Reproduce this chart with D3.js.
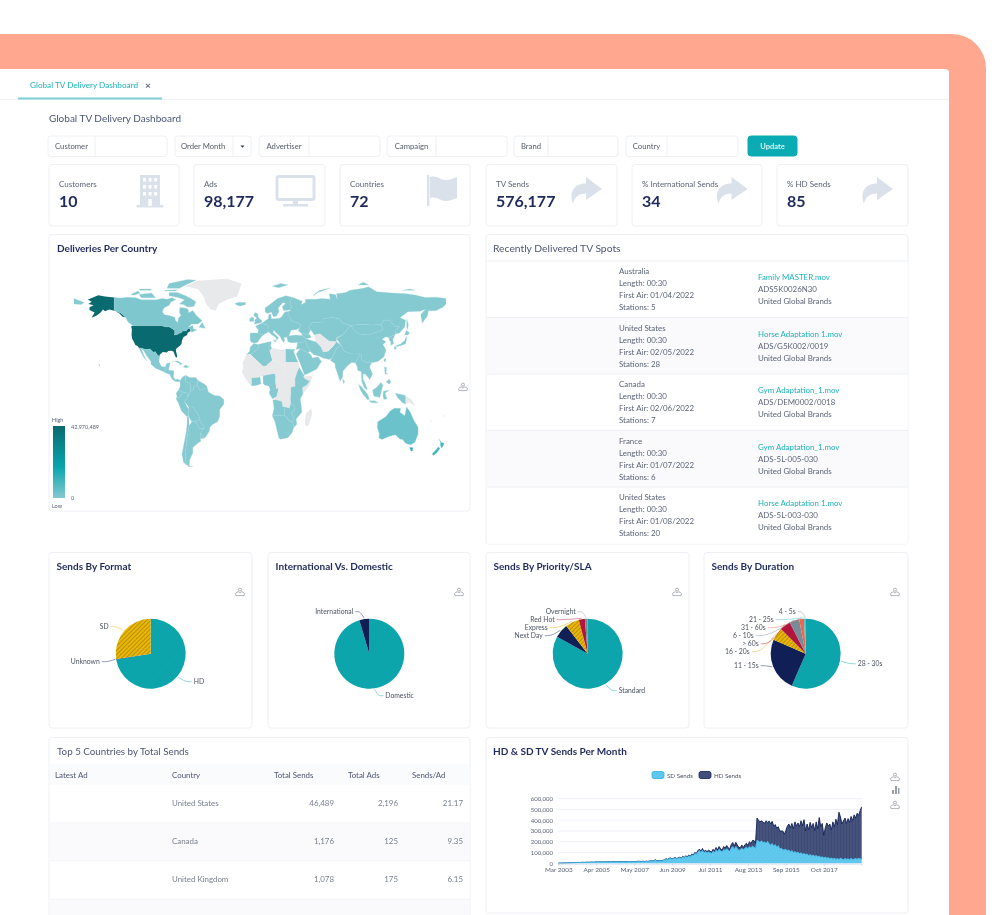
<!DOCTYPE html>
<html>
<head>
<meta charset="utf-8">
<title>Global TV Delivery Dashboard</title>
<script src="https://cdn.jsdelivr.net/npm/d3@7"></script>
<style>
html, body { margin: 0; padding: 0; background: #fff; overflow: hidden; }
svg { display: block; filter: blur(0.7px); font-family: Lato, "Open Sans", sans-serif; }
</style>
</head>
<body>
<div id="chart"></div>
<script>
//********************************* DATA *********************************
var filterLabels = ["Customer", "Order Month", "Advertiser", "Campaign", "Brand", "Country"];
var kpiLabels = ["Customers", "Ads", "Countries", "TV Sends", "% International Sends", "% HD Sends"];
var kpiValues = ["10", "98,177", "72", "576,177", "34", "85"];

var spotCountries = ["Australia", "United States", "Canada", "France", "United States"];
var spotLengths = ["00:30", "00:30", "00:30", "00:30", "00:30"];
var spotAirDates = ["01/04/2022", "02/05/2022", "02/06/2022", "01/07/2022", "01/08/2022"];
var spotStations = [5, 28, 7, 6, 20];
var spotFiles = ["Family MASTER.mov", "Horse Adaptation 1.mov", "Gym Adaptation_1.mov", "Gym Adaptation_1.mov", "Horse Adaptation 1.mov"];
var spotCodes = ["ADS5K0026N30", "ADS/G5K002/0019", "ADS/DEM0002/0018", "ADS-5L-005-030", "ADS-5L-003-030"];
var spotOwners = ["United Global Brands", "United Global Brands", "United Global Brands", "United Global Brands", "United Global Brands"];

var tableHeaders = ["Latest Ad", "Country", "Total Sends", "Total Ads", "Sends/Ad"];
var topCountries = ["United States", "Canada", "United Kingdom"];
var topSends = ["46,489", "1,176", "1,078"];
var topAds = ["2,196", "125", "175"];
var topRatio = ["21.17", "9.35", "6.15"];

var formatLabels = ["HD", "Unknown", "SD"];
var formatValues = [72.4, 0.2, 27.4];
var reachLabels = ["Domestic", "International"];
var reachValues = [95.4, 4.6];
var priorityLabels = ["Standard", "Next Day", "Express", "Red Hot", "Overnight"];
var priorityValues = [83, 6.5, 6.4, 2.8, 1.3];
var durationLabels = ["28 - 30s", "11 - 15s", "16 - 20s", "> 60s", "6 - 10s", "31 - 60s", "21 - 25s", "4 - 5s"];
var durationValues = [56.5, 25, 6, 5, 4.5, 2.2, 0.4, 0.4];

// monthly sends in thousands, Mar 2003 onward
var sdSends = [1,2,2,3,3,4,4,5,5,6, 6,7,7,8,7,8,9,8,9,10, 9,10,11,10,11,12,11,12,13,12,
	13,12,14,13,12,14,15,13,14,15, 14,13,15,14,13,15,14,16,15,14, 14,15,16,18,15,16,17,15,18,16,
	18,22,20,24,30,22,20,25,22,24, 30,40,34,42,46,38,44,50,42,46, 52,44,60,50,64,55,70,60,78,72,
	92,84,105,118,100,122,98,110,96,105, 100,92,112,100,125,108,130,115,105,128, 118,135,122,112,140,155,130,155,135,122,
	125,140,125,140,150,135,155,142,160,150, 140,215,205,195,210,190,200,185,205,180,
	170,185,160,175,150,165,135,140,125,125, 130,115,125,105,120,100,110,95,105,90,
	98,85,92,80,88,72,82,68,78,65, 72,60,68,55,62,50,58,46,54,42, 50,40,46,38,44,36,48,40,35,45,
	38,42,34,46,36,40,44,38,48,42,38];
var hdSends = [0,0,0,0,0,0,0,0,0,0, 0,0,0,0,0,0,0,0,0,0, 0,0,0,0,0,1,0,1,0,1,
	0,1,0,1,1,0,1,1,0,1, 1,1,0,1,1,1,0,1,1,1, 1,1,2,1,2,1,2,1,2,2,
	2,1,2,3,2,2,3,2,2,3, 3,2,3,3,4,3,3,4,3,4, 4,3,5,4,6,5,7,5,8,6,
	9,7,12,14,10,15,11,13,12,16, 14,12,18,15,22,16,26,20,17,28, 24,30,22,20,34,38,28,40,35,26,
	20,30,22,32,36,30,46,40,52,62, 45,205,195,190,185,190,172,210,173,212,
	195,205,185,185,175,175,165,160,175,145, 175,230,240,225,250,220,275,250,270,250,
	297,265,313,220,277,238,298,262,292,240, 313,260,357,285,308,210,272,329,291,323,
	260,345,294,372,316,439,382,325,360,375, 332,373,346,389,359,410,376,427,397,448,487];
var monthTickValues = [0, 25, 50, 75, 100, 125, 150, 175];
var monthTickLabels = ["Mar 2003", "Apr 2005", "May 2007", "Jun 2009", "Jul 2011", "Aug 2013", "Sep 2015", "Oct 2017"];
var sendTicks = [0, 100, 200, 300, 400, 500, 600];

// outlines in [lon, lat]
var regionShapes = {
	usa: [[-124.7,48.4],[-123,49],[-95,49],[-94.6,48.7],[-89.6,48],[-88,48.2],[-84.5,46.5],[-82.5,45.3],[-82.5,43],[-83,42],[-79,42.8],[-79,43.4],[-76.5,43.6],[-75,45],[-71.5,45],[-70,46.5],[-68.3,47.3],[-67,45],[-70,43.7],[-70.5,42],[-74,40.6],[-75.5,38],[-76,35.5],[-78,33.8],[-81,32],[-81.4,30.5],[-80.1,26.5],[-80.5,25.2],[-81.8,26],[-82.8,28],[-84,30],[-86,30.4],[-89,30.3],[-90,29.2],[-94,29.6],[-97.2,27.5],[-97.2,26],[-99.5,27.5],[-101.5,29.8],[-103,29],[-104.8,30.5],[-106.5,31.8],[-108.2,31.5],[-111,31.3],[-114.8,32.5],[-117.1,32.5],[-118.5,34],[-120.6,34.6],[-122,36.8],[-123.8,39.5],[-124.3,42],[-124,46.2]],
	alaska: [[-141,69.7],[-141,60.3],[-137.5,59],[-135,58.5],[-130,55.2],[-133,55.5],[-136,58],[-140,59.8],[-146,60.8],[-150,59.5],[-152,60.8],[-154,58.8],[-158,56.5],[-163,54.8],[-160,58.7],[-165,60.5],[-165,62.5],[-161,64],[-166,65],[-163,66.5],[-166.5,68.3],[-156.5,71.3],[-150,70.5]],
	hawaii: [[-156,20.5],[-155,19.8],[-155.7,19]],
	canada: [[-141,69.7],[-135,69.3],[-128,70],[-120,69.5],[-115,68],[-108,68],[-100,68],[-95,69],[-90,68.5],[-85,69.5],[-81.5,68],[-86,66.5],[-88,64],[-93,62],[-94.5,59],[-92.5,57],[-88,56.5],[-82.5,55.2],[-82,52.9],[-79.5,51.3],[-79,54.5],[-76.5,56.5],[-78,58.8],[-77.5,62.3],[-73,62],[-69.5,61],[-69,58.5],[-65,60.2],[-61.5,56.5],[-56,52.5],[-60,50.2],[-66,50.2],[-70,47.5],[-65,49],[-64.5,46.5],[-61,46],[-66,44],[-67,45],[-68.3,47.3],[-70,46.5],[-71.5,45],[-75,45],[-76.5,43.6],[-79,43.4],[-79,42.8],[-83,42],[-82.5,43],[-82.5,45.3],[-84.5,46.5],[-88,48.2],[-89.6,48],[-94.6,48.7],[-95,49],[-123,49],[-125,50],[-128,52],[-130,55.2],[-135,58.5],[-137.5,59],[-141,60.3]],
	newfoundland: [[-59,47.7],[-56,51.5],[-53,47]],
	baffin: [[-80,73.5],[-72,71],[-67,69],[-62,66.5],[-64,63],[-70,62.8],[-74,64.5],[-78,65],[-73,68],[-80,70],[-88,71],[-88,73.5]],
	victoria: [[-117,72],[-105,73],[-101,69.5],[-115,69.5]],
	banks: [[-125,72],[-118,74.5],[-116,73],[-122,71.3]],
	ellesmere: [[-90,76.5],[-88,80],[-70,83],[-62,82.5],[-72,79],[-78,76.5]],
	devon: [[-92,75],[-80,75.5],[-82,74.5],[-92,74.5]],
	melville: [[-117,76],[-105,76],[-106,75],[-116,75]],
	greenland: [[-73,78],[-60,82],[-32,83.5],[-18,80],[-20,75],[-22,70.5],[-32,68],[-40,65],[-43,60],[-48,61],[-53,66],[-54,70],[-60,76]],
	mexico: [[-117.1,32.5],[-114.8,32.5],[-111,31.3],[-108.2,31.5],[-106.5,31.8],[-104.8,30.5],[-103,29],[-101.5,29.8],[-99.5,27.5],[-97.2,26],[-97.8,22.5],[-95.5,18.8],[-91.5,18.5],[-90.5,21],[-87,21.5],[-88,18],[-91,17.5],[-92.2,14.5],[-96,15.8],[-101,17.5],[-105.5,20.5],[-105.5,22.5],[-109,26],[-113,31],[-114.8,31.5],[-112,26.5],[-109.5,23],[-112,25],[-115,29]],
	centralAmerica: [[-92.2,14.5],[-91,17.5],[-88,18],[-88.5,16],[-84,15.8],[-83.3,14.8],[-83.7,11],[-82,9],[-79.5,9.5],[-77.3,8.5],[-78,7.5],[-80,7.5],[-83,8.2],[-85.5,10],[-87.5,13],[-91,14]],
	cuba: [[-85,22],[-80,23],[-75,20.7],[-77.5,19.9],[-78,21],[-82,22.5]],
	hispaniola: [[-74.4,18.5],[-72,19.9],[-68.5,18.5],[-71.5,17.8]],
	colombia: [[-77.3,8.5],[-75,11],[-72,12.3],[-72,7.5],[-67.5,6],[-67,1.5],[-70,-4.2],[-70,-1],[-75,0],[-78.8,1.5],[-77.3,4]],
	venezuela: [[-72,12.3],[-68,10.7],[-62,10.7],[-60,8.5],[-61,5],[-64,4],[-65,1],[-67,1.5],[-67.5,6],[-72,7.5]],
	guianas: [[-60,8.5],[-54,5.9],[-51.5,4.3],[-54,2.3],[-58,1.5],[-60,4],[-61,5]],
	ecuador: [[-78.8,1.5],[-75,0],[-75.5,-1.5],[-78.5,-4.8],[-80.3,-3.4],[-81,-1]],
	peru: [[-80.3,-3.4],[-78.5,-4.8],[-75.5,-1.5],[-75,0],[-70,-1],[-70,-4.2],[-73,-7],[-70.5,-11],[-69,-12.5],[-69.5,-17],[-70.5,-18.3],[-76,-14],[-79,-8],[-81.2,-5]],
	brazil: [[-70,-4.2],[-67,1.5],[-65,1],[-64,4],[-61,5],[-60,4],[-58,1.5],[-54,2.3],[-51.5,4.3],[-50,0],[-44,-2.5],[-39,-3],[-35,-5.5],[-35,-9],[-39,-13],[-39,-18],[-41,-22],[-46,-24],[-48.5,-26],[-49,-29],[-53.5,-34],[-57.5,-30],[-54,-27],[-54.5,-25],[-58,-22],[-58,-20],[-60,-16.3],[-65,-11],[-69,-11],[-73,-7]],
	bolivia: [[-69,-11],[-65,-11],[-60,-16.3],[-58,-20],[-62.5,-22],[-66,-22],[-69,-18],[-69.5,-17],[-69,-12.5]],
	paraguay: [[-58,-20],[-58,-22],[-54.5,-25],[-54,-27],[-58.5,-27],[-62.5,-22]],
	uruguay: [[-57.5,-30],[-53.5,-34],[-58,-34.5]],
	argentina: [[-66,-22],[-62.5,-22],[-58.5,-27],[-54,-27],[-57.5,-30],[-58,-34.5],[-57,-36],[-62,-39],[-65,-41],[-65,-45],[-68,-50],[-68.5,-54.5],[-65,-55],[-69,-55],[-72,-52],[-72,-44],[-70.5,-33],[-68.5,-25]],
	chile: [[-70.5,-18.3],[-69,-18],[-68.5,-25],[-70.5,-33],[-72,-44],[-72,-52],[-69,-55],[-74,-52],[-75.5,-46],[-73.5,-38],[-71.5,-30],[-70.5,-23]],
	morocco: [[-6,35.8],[-2,35],[-1.5,32],[-8.7,28],[-13,27.7],[-10,30],[-9.5,33]],
	algeria: [[-2,35],[9,37],[8.5,33],[9.5,30],[12,23.5],[5.5,19],[3,19],[-8.7,27.3],[-8.7,28],[-1.5,32]],
	tunisia: [[9,37],[11,37],[10.2,34],[11.5,32.5],[9.5,30],[8.5,33]],
	libya: [[9.5,30],[11.5,32.5],[15,32],[20,31],[25,31.7],[25,20],[24,19.5],[15,23],[12,23.5]],
	egypt: [[25,31.7],[34,31.3],[32.5,29.8],[35.5,24],[37,22],[25,22]],
	sahel: [[-13,27.7],[-8.7,27.3],[3,19],[5.5,19],[12,23.5],[15,23],[24,19.5],[24,13],[22,11],[15,10],[14.5,13],[13.5,13.5],[3,12],[0,11],[-3,10.5],[-8,10.3],[-8,4.5],[-11.5,7],[-15,11],[-17.5,14.7],[-16,19],[-17,21]],
	ghana: [[-8,4.5],[-8,10.3],[-3,10.5],[0,11],[1,6],[-3,5]],
	nigeria: [[3,12],[13.5,13.5],[14.5,13],[15,10],[15,7],[16,2],[9.7,2.2],[8.5,4.5],[5,5],[3,6.3]],
	gabon: [[9.7,2.2],[14,2.2],[18,3.5],[17,-1],[16,-3.5],[12,-5],[9,-1]],
	centralAfrica: [[25,22],[37,22],[38,18],[36,14.5],[34,10],[34,4],[30,3.5],[30,-1],[29.5,-6],[30,-8],[28.5,-12],[24,-11],[22,-11],[21,-7],[16,-6],[12.5,-6],[16,-3.5],[17,-1],[18,3.5],[16,2],[15,7],[15,10],[22,11],[24,13],[24,19.5],[25,20]],
	somalia: [[42,11.5],[51,12],[48,5],[41.5,-1.5],[41,3.5],[45,5],[48,8],[43,10]],
	eastAfrica: [[36,14.5],[38,18],[43,12],[42,11.5],[43,10],[48,8],[45,5],[41,3.5],[41.5,-1.5],[39,-5],[40,-10.5],[40.5,-15],[35,-20],[35.5,-24],[32.8,-26],[31.5,-22],[33,-19],[30,-15.5],[33,-14],[34,-11.5],[30,-8],[29.5,-6],[30,-1],[30,3.5],[34,4],[34,10]],
	angola: [[12.5,-6],[16,-6],[21,-7],[22,-11],[24,-11],[24,-17.5],[12,-17.5],[13.5,-12]],
	zambia: [[24,-11],[28.5,-12],[30,-8],[34,-11.5],[33,-14],[30,-15.5],[33,-19],[31.5,-22],[29,-22],[25,-18],[24,-17.5]],
	southAfrica: [[12,-17.5],[24,-17.5],[25,-18],[29,-22],[31.5,-22],[32.8,-26],[31,-30],[27,-33.8],[20,-34.8],[18.3,-34],[16.5,-28.5],[14.5,-22]],
	madagascar: [[49.5,-12],[50.5,-16],[47,-25],[44,-25],[43.5,-21],[44.5,-16]],
	iberia: [[-9.5,43.5],[-2,43.5],[3,42],[0,39.5],[-2,36.8],[-5.5,36],[-9,37],[-9.5,39]],
	france: [[-2,43.5],[-1.5,46],[-4.5,48.5],[2,51],[8,49],[7.5,44],[3,42]],
	uk: [[-5.5,50],[1.5,51.2],[1.7,52.8],[-1,54.5],[-2,56],[-2,57.7],[-5,58.6],[-6,56.5],[-3,54.5],[-5,53.3],[-5,51.7]],
	ireland: [[-10,52],[-6,52.2],[-6,55],[-8.5,55],[-10,54]],
	iceland: [[-24,65.5],[-20,66.2],[-14,66],[-14,64.5],[-19,63.4],[-22.5,64]],
	centralEurope: [[2,51],[4,52],[8,54],[8.5,57],[10.5,57.5],[11,54],[14,54],[19,54.5],[21,55.5],[24,59],[28,59.5],[28,56],[31,52.5],[40,49.8],[38,47],[35,46],[33,46],[30,45.5],[28,41.5],[26,40.5],[23,40],[24,38],[23,36.5],[21,38.5],[19.5,41],[15,44],[13.5,45.5],[12.5,44],[16,41.5],[18,40],[16,38],[15.5,40],[11,42.5],[8.5,44.3],[7.5,44],[8,49]],
	scandinavia: [[5,59],[5,62],[12,66],[17,69],[25,71],[31,70],[29,66],[31,62.5],[28,60.5],[23,60],[21.5,63],[25,65.5],[22,65.8],[17.5,62],[18.5,59.5],[16,56],[13,55.5],[11,59],[7,58]],
	sicily: [[12.5,38],[15.5,38.2],[15,36.8]],
	russia: [[28,59.5],[30,60],[28,60.5],[31,62.5],[29,66],[31,70],[41,67],[40,64.5],[44,66],[44,68.5],[54,68.5],[60,69],[68,68.5],[67,72.5],[73,72],[75,68],[74,72.5],[83,73.5],[87,75],[100,76.5],[105,77.7],[113,74],[128,73],[140,72.7],[150,71.5],[160,69.7],[170,70],[180,69],[180,65],[177,62.5],[170,60],[163,60],[162,56],[157,51],[155.5,57],[160,61],[155,59.5],[143,59.3],[135.5,54.7],[141,53],[140,48],[135,43.5],[131,42.7],[131,45],[135,48.5],[130,48.5],[126,53],[120,53],[117,49.7],[108,49.5],[98,50],[87.5,49],[80,51],[76,54],[70,55],[61,54],[61,51],[51,51.5],[47,48],[49,46],[47,43],[48.5,41.8],[40,43.5],[37,45],[38,47],[40,49.8],[31,52.5],[28,56]],
	chukotka: [[-180,65],[-180,69],[-175,67.5],[-170,66],[-173,64.5]],
	sakhalin: [[142,54],[143.5,50],[143,46],[142,48]],
	novayaZemlya: [[52,71],[56,73.5],[68,76.7],[58,75],[53,72.5]],
	svalbard: [[12,78],[20,80],[27,79],[18,77]],
	severnaya: [[95,79],[105,79],[100,81]],
	newSiberian: [[138,75],[150,75],[145,76]],
	kazakhstan: [[47,48],[51,51.5],[61,51],[61,54],[70,55],[76,54],[80,51],[87.5,49],[80,42],[74,40],[74,37],[67,37.5],[58,43],[52.5,42],[50,45],[49,46]],
	mongolia: [[87.5,49],[98,50],[108,49.5],[117,49.7],[119,46],[111,43.5],[105,42],[96,42.7],[91,45.5]],
	china: [[87.5,49],[91,45.5],[96,42.7],[105,42],[111,43.5],[119,46],[117,49.7],[120,53],[126,53],[130,48.5],[135,48.5],[131,45],[131,42.7],[125,40],[122,40.8],[118,39],[122,37],[119,35],[122,31],[120,26],[114,22.5],[108,21.5],[102,22],[98,24],[98,28],[88,28],[81,30.5],[78.5,34.5],[74,39.5],[80,42]],
	pakistan: [[61,25],[61,29.5],[66,30],[71,34],[74,37],[78.5,34.5],[74,32],[70,25],[67,24]],
	afghanistan: [[52.5,42],[58,43],[67,37.5],[74,37],[71,34],[66,30],[61,29.5],[59,33],[54,37]],
	turkey: [[26,40.5],[28,41.5],[35,42],[41,41.5],[44.5,39.5],[44.5,37],[36,36.5],[30,36.3],[27,37]],
	caucasus: [[40,43.5],[48.5,41.8],[49.5,40],[44.5,39.5],[41,41.5]],
	iran: [[44.5,39.5],[49.5,38],[54,37],[59,33],[61,29.5],[61,25],[57,26.5],[52,27.5],[48.5,30],[46,33],[44.5,37]],
	iraq: [[36,36.5],[44.5,37],[46,33],[48.5,30],[46.5,29],[39,32],[35,31.3],[36,34.5]],
	arabia: [[35,28],[39,32],[46.5,29],[48.5,28],[51,25],[56,26],[59.5,22.5],[55,17],[45,13],[43,12.8],[39,21]],
	india: [[68,23.5],[70,25],[74,32],[78.5,34.5],[81,30.5],[88,28],[97,28.5],[94,24],[92,21.5],[88.5,21.7],[85,19.5],[80.3,15.5],[80,11],[77.5,8],[73,18],[72.5,21]],
	seAsia: [[92,21.5],[94,24],[97,28.5],[98,28],[98,24],[102,22],[108,21.5],[106,18.5],[109,13],[106,9],[105,10.5],[102,13],[100,13.5],[99.5,10],[103,4],[104,1.5],[101,3],[98.5,8],[98,15],[94.5,16],[94,19]],
	sriLanka: [[80,9.5],[82,7.5],[80.7,6]],
	korea: [[125,40],[131,42.7],[128.5,38.5],[129.3,35.5],[126.5,34.5],[126.5,37.5],[125,38]],
	honshu: [[130.8,34],[136,35.5],[140,38],[141.5,41],[142,39.5],[140.8,35.5],[137,34.5],[133,33.5]],
	hokkaido: [[140,42],[141.5,45.5],[145,43.5],[143,42]],
	kyushu: [[130,33.5],[132,33],[131,31],[130,32]],
	taiwan: [[121,25],[122,24],[120.8,22],[120,23.5]],
	luzon: [[120.5,18.5],[122.5,18],[122,14],[124,13],[121,13.5]],
	mindanao: [[122,7.5],[125.5,9.5],[126.5,7],[125,5.8]],
	sumatra: [[95.5,5.5],[98,4],[104,-1.5],[106,-5.5],[104,-5.5],[100,-2],[97,2]],
	java: [[105.5,-6.5],[111,-6.5],[114.5,-8],[108,-8]],
	borneo: [[109,1.5],[113,3.5],[117,7],[119,5],[117.5,1],[116,-4],[110,-3]],
	sulawesi: [[119.5,0.5],[125,1.5],[121,-1],[123,-5],[120,-5.5],[119,-3]],
	papua: [[131,-1],[138,-2],[141,-2.7],[141,-9],[138,-8],[133,-4]],
	png: [[141,-2.7],[147,-6],[150,-10.5],[144,-7.5],[141,-9]],
	fiji: [[177,-17.5],[179,-17],[178.5,-18.5]],
	newCaledonia: [[164,-20],[167,-22],[165.5,-22]],
	australia: [[114,-22],[122,-18],[126,-14],[130,-12],[136,-12],[135.5,-15],[140,-17.5],[142,-11],[145.5,-15],[149,-21],[153,-26],[153,-31],[150,-37],[146,-39],[141,-38],[138,-35],[135.5,-34.8],[131,-31.5],[124,-33],[118,-35],[115,-34],[115.5,-31],[113.5,-26]],
	tasmania: [[144.7,-41],[148,-41],[147.5,-43.5],[146,-43.5]],
	nzNorth: [[173,-34.5],[175.5,-37],[178.3,-38],[176,-41.5],[174.5,-39.5],[174.7,-37]],
	nzSouth: [[172.5,-40.5],[174.2,-41.7],[171,-45],[168,-46.8],[166.5,-45.8],[171,-42]]
};
// regions with no deliveries are drawn grey, a few stand out from the flat low end
var noDataRegions = ["greenland", "libya", "sahel", "centralAfrica", "somalia", "madagascar", "afghanistan", "png", "fiji", "newCaledonia"];
var regionValues = { usa: 46489, alaska: 46489, hawaii: 9000, canada: 1176, australia: 4000, tasmania: 16000, nzNorth: 11000, nzSouth: 11000 };
var legendMaxLabel = "42,970,489";

//********************************* PAGE *********************************
var width = 1000, height = 915;
var tealColor = "#0aa5ad", navyColor = "#101f56", goldColor = "#e8b100", crimsonColor = "#b3163d", slateColor = "#7b8c9b", coralColor = "#f0674b";
var textColor = "#5c6478", titleColor = "#1f2a5c", iconColor = "#dbe1ea", borderColor = "#eef0f5";

var svg = d3.select("#chart").append("svg").attr("width", width).attr("height", height);
var defs = svg.append("defs");

function hatch(id, size, base, stripe, strokeWidth, angle){
	var p = defs.append("pattern").attr("id", id).attr("width", size).attr("height", size)
		.attr("patternUnits", "userSpaceOnUse").attr("patternTransform", "rotate(" + angle + ")");
	p.append("rect").attr("width", size).attr("height", size).attr("fill", base);
	p.append("line").attr("x1", 0).attr("x2", 0).attr("y1", 0).attr("y2", size)
		.attr("stroke", stripe).attr("stroke-width", strokeWidth);
}
hatch("hatchTeal", 2, "#0ca8af", "#0f949c", 0.7, 45);
hatch("hatchGold", 3, "#edb600", "#6a6420", 0.9, 45);
hatch("hatchCrimson", 2, "#b3163d", "#a01238", 0.6, 45);
hatch("hatchSlate", 2, "#7b8c9b", "#6d7d8c", 0.6, 45);
hatch("hatchSd", 3, "#62c9ee", "#4dbbe6", 0.8, 45);
hatch("hatchHd", 3, "#45527c", "#36436e", 1.1, 0);

function label(g, x, y, str, size, color, anchor, weight){
	return g.append("text").attr("x", x).attr("y", y).text(str)
		.attr("font-size", size).attr("fill", color)
		.attr("text-anchor", anchor || "start").attr("font-weight", weight || 400);
}
function box(g, x0, y0, x1, y1, fill, stroke){
	return g.append("rect").attr("x", x0).attr("y", y0).attr("width", x1 - x0).attr("height", y1 - y0)
		.attr("rx", 3).attr("fill", fill || "#fff").attr("stroke", stroke || borderColor).attr("stroke-width", 1);
}

//the salmon device frame
svg.append("rect").attr("x", -60).attr("y", 34).attr("width", 1046).attr("height", 960).attr("rx", 34).attr("fill", "#ffa88f");
svg.append("rect").attr("x", -40).attr("y", 69).attr("width", 989).attr("height", 900).attr("rx", 4).attr("fill", "#fff");

//tab strip
svg.append("line").attr("x1", 0).attr("x2", 949).attr("y1", 99.5).attr("y2", 99.5).attr("stroke", "#f0f2f5");
svg.append("line").attr("x1", 18).attr("x2", 162).attr("y1", 98.5).attr("y2", 98.5).attr("stroke", "#7fd0d4").attr("stroke-width", 2);
label(svg, 30, 88, "Global TV Delivery Dashboard", 8.2, "#1fb0b8");
label(svg, 148, 88.5, "×", 10, "#5c6478", "middle", 700);
label(svg, 49, 121.5, "Global TV Delivery Dashboard", 10, "#4a5578");

//filters
var filterLeft = [48, 175, 259, 387, 514, 626];
var filterSplit = [95, 233, 309, 436, 548, 667];
var filterRight = [167, 251, 380, 507, 618, 738];
filterLabels.forEach(function(name, i){
	box(svg, filterLeft[i], 136, filterRight[i], 156.5);
	svg.append("line").attr("x1", filterSplit[i]).attr("x2", filterSplit[i]).attr("y1", 136).attr("y2", 156.5).attr("stroke", borderColor);
	label(svg, (i == 1) ? filterLeft[i] + 6 : (filterLeft[i] + filterSplit[i]) / 2, 148.5, name, 7.7, "#555b68", (i == 1) ? "start" : "middle");
});
svg.append("path").attr("d", "M240.5 145.5h4l-2 2.2z").attr("fill", "#333a4c");
box(svg, 748, 136, 797, 156, "#0aabb3", "#0aabb3");
label(svg, 772.5, 149, "Update", 7.5, "#d9f4f5", "middle", 700);

//kpi cards
var kpiLeft = [49, 194, 340, 486, 632, 777];
var kpiRight = [179, 325, 470, 617, 762, 908];
kpiLabels.forEach(function(name, i){
	box(svg, kpiLeft[i], 164.5, kpiRight[i], 226);
	label(svg, kpiLeft[i] + 10, 186.5, name, 8, textColor);
	label(svg, kpiLeft[i] + 10, 207, kpiValues[i], 16, titleColor, "start", 700);
});
//building
var building = svg.append("g").attr("fill", iconColor);
building.append("rect").attr("x", 140).attr("y", 175).attr("width", 20).attr("height", 31);
building.append("rect").attr("x", 136.5).attr("y", 205).attr("width", 27).attr("height", 2.5);
[0, 1, 2].forEach(function(col){
	[0, 1, 2].forEach(function(row){
		building.append("rect").attr("x", 143 + col * 5.6).attr("y", 178 + row * 7).attr("width", 3).attr("height", 3.5).attr("fill", "#fff");
	});
});
building.append("rect").attr("x", 148.3).attr("y", 199).attr("width", 3.4).attr("height", 7).attr("fill", "#fff");
//monitor
svg.append("rect").attr("x", 277).attr("y", 176.5).attr("width", 37).attr("height", 23).attr("rx", 1.5).attr("fill", "none").attr("stroke", iconColor).attr("stroke-width", 3);
svg.append("path").attr("d", "M293 201h5v3h-5zM283 204h25v2.4h-25z").attr("fill", iconColor);
//flag
svg.append("path").attr("d", "M427 175h2.4v31h-2.4zM430 177c8 -2 9 3 16 3c4 0 7 -1.5 11 -3v21c-4 1.5 -7 3 -11 3c-7 0 -8 -5 -16 -3z").attr("fill", iconColor);
//share arrows
[571, 716.5, 862].forEach(function(x){
	svg.append("path").attr("transform", "translate(" + x + ",177)")
		.attr("d", "M15 0l16 12l-16 11v-6.5c-7 0 -11 3 -13 10c-4 -10 0 -20 13 -20z").attr("fill", iconColor);
});

//********************************* MAP *********************************
box(svg, 49, 234.5, 470, 511);
label(svg, 57, 251.5, "Deliveries Per Country", 10, titleColor, "start", 700);

var lonScale = d3.scaleLinear().domain([-180, 180]).range([74, 446]);
var latScale = d3.scaleLinear().domain([-60, 85]).range([473.3, 276.8]);
var mapPath = d3.geoPath().projection(d3.geoTransform({
	point: function(lon, lat){ this.stream.point(lonScale(lon), latScale(lat)); }
}));
var mapColor = d3.scaleLinear().domain([0, 20000, 46489]).range(["#85c9d1", "#0aa5ad", "#096a70"]);
var regionFeatures = Object.keys(regionShapes).map(function(key){
	var ring = regionShapes[key].concat([regionShapes[key][0]]);
	return { type: "Feature", id: key, geometry: { type: "Polygon", coordinates: [ring] } };
});
svg.append("g").selectAll("path").data(regionFeatures).enter().append("path")
	.attr("d", mapPath)
	.attr("fill", function(d){
		if(noDataRegions.indexOf(d.id) >= 0) return "#e8e9eb";
		return mapColor(regionValues[d.id] || 0);
	})
	.attr("stroke", function(d){ return (noDataRegions.indexOf(d.id) >= 0 || regionValues[d.id] > 20000) ? "none" : "#a4d7dc"; })
	.attr("stroke-width", 0.3);

//colour legend
var legendGradient = defs.append("linearGradient").attr("id", "mapLegend").attr("x1", 0).attr("x2", 0).attr("y1", 1).attr("y2", 0);
mapColor.domain().forEach(function(v){
	legendGradient.append("stop").attr("offset", v / 46489).attr("stop-color", mapColor(v));
});
svg.append("rect").attr("x", 53).attr("y", 426).attr("width", 12).attr("height", 72).attr("fill", "url(#mapLegend)");
label(svg, 52, 421.5, "High", 5.5, textColor);
label(svg, 52, 508, "Low", 5.5, textColor);
label(svg, 71, 429, legendMaxLabel, 5.5, textColor);
label(svg, 71, 500, "0", 5.5, textColor);

//small export glyph used by the map and pies
function exportIcon(x, y){
	var g = svg.append("g").attr("transform", "translate(" + x + "," + y + ")").attr("fill", "none").attr("stroke", "#9aa0aa").attr("stroke-width", 0.8);
	g.append("circle").attr("cx", 0).attr("cy", -2.4).attr("r", 1.5);
	g.append("path").attr("d", "M-4 3.6a2 2 0 0 1 4 -2.6a2 2 0 0 1 4 2.6z");
}
exportIcon(463, 387);

//********************************* RECENT SPOTS *********************************
box(svg, 486, 234.5, 908, 544);
label(svg, 493, 251.5, "Recently Delivered TV Spots", 10.3, "#4e5674");
var rowScale = d3.scaleLinear().domain([0, 5]).range([261, 543.5]);
spotCountries.forEach(function(country, i){
	var top = rowScale(i);
	svg.append("rect").attr("x", 487).attr("y", top).attr("width", 420.5).attr("height", rowScale(1) - rowScale(0))
		.attr("fill", (i % 2) ? "#fafafc" : "#fff");
	svg.append("line").attr("x1", 487).attr("x2", 908).attr("y1", top).attr("y2", top).attr("stroke", "#eef0f4");
	label(svg, 619, top + 13, country, 7.9, textColor);
	label(svg, 619, top + 25, "Length: " + spotLengths[i], 7.9, textColor);
	label(svg, 619, top + 37, "First Air: " + spotAirDates[i], 7.9, textColor);
	label(svg, 619, top + 49, "Stations: " + spotStations[i], 7.9, textColor);
	label(svg, 758, top + 19, spotFiles[i], 7.9, "#1fb0b8");
	label(svg, 758, top + 31, spotCodes[i], 7.9, textColor);
	label(svg, 758, top + 43, spotOwners[i], 7.9, textColor);
});

//********************************* PIES *********************************
var pieCards = [
	{ left: 49, right: 252, cx: 150.7, title: "Sends By Format", names: formatLabels, values: formatValues,
		fills: ["url(#hatchTeal)", navyColor, "url(#hatchGold)"], lines: [tealColor, navyColor, goldColor],
		spots: [[43, 28], [-51, 8], [-42, -27]], icon: 240 },
	{ left: 268, right: 470, cx: 369.3, title: "International Vs. Domestic", names: reachLabels, values: reachValues,
		fills: ["url(#hatchTeal)", navyColor], lines: [tealColor, navyColor],
		spots: [[16, 42], [-16, -42]], icon: 459 },
	{ left: 486, right: 689, cx: 587.7, title: "Sends By Priority/SLA", names: priorityLabels, values: priorityValues,
		fills: ["url(#hatchTeal)", navyColor, "url(#hatchGold)", "url(#hatchCrimson)", "url(#hatchSlate)"],
		lines: [tealColor, navyColor, goldColor, crimsonColor, slateColor],
		spots: [[31, 37], [-45, -18], [-40, -26], [-33, -34], [-12, -42]], icon: 677 },
	{ left: 704, right: 908, cx: 805.7, title: "Sends By Duration", names: durationLabels, values: durationValues,
		fills: ["url(#hatchTeal)", navyColor, "url(#hatchGold)", "url(#hatchCrimson)", "url(#hatchSlate)", coralColor, "#3fbfc6", slateColor],
		lines: [tealColor, navyColor, goldColor, crimsonColor, slateColor, coralColor, "#3fbfc6", slateColor],
		spots: [[52, 10], [-47, 12], [-56, -2], [-47, -10], [-52, -18], [-40, -26], [-32, -34], [-10, -42]], icon: 895 }
];
var pieLayout = d3.pie().sort(null);
var pieRadius = 35, pieY = 653.7;
var pieArc = d3.arc().innerRadius(0).outerRadius(pieRadius);
var leader = d3.line().curve(d3.curveMonotoneX);

pieCards.forEach(function(card){
	box(svg, card.left, 552.5, card.right, 728);
	label(svg, card.left + 7.5, 569.5, card.title, 10, titleColor, "start", 700);
	exportIcon(card.icon, 592);
	var g = svg.append("g").attr("transform", "translate(" + card.cx + "," + pieY + ")");
	pieLayout(card.values).forEach(function(slice, i){
		g.append("path").attr("d", pieArc(slice)).attr("fill", card.fills[i]);
		var mid = (slice.startAngle + slice.endAngle) / 2;
		var edgeX = Math.sin(mid) * (pieRadius + 1), edgeY = -Math.cos(mid) * (pieRadius + 1);
		var spot = card.spots[i];
		var side = spot[0] > 0 ? 1 : -1;
		var pts = [[spot[0] - side * 2, spot[1]], [spot[0] - side * 5, spot[1]], [edgeX, edgeY]];
		pts.sort(function(a, b){ return a[0] - b[0]; });
		g.append("path").attr("d", leader(pts)).attr("fill", "none").attr("stroke", card.lines[i]).attr("stroke-opacity", 0.55).attr("stroke-width", 0.8);
		label(g, spot[0], spot[1] + 2, card.names[i], 6.8, "#4d5362", side > 0 ? "start" : "end");
	});
});

//********************************* TABLE *********************************
box(svg, 49, 737.5, 470, 960);
label(svg, 57, 754.5, "Top 5 Countries by Total Sends", 9.8, "#4e5674");
svg.append("rect").attr("x", 50).attr("y", 764).attr("width", 419.5).attr("height", 21).attr("fill", "#fafbfc");
var headerX = [55, 172, 274, 348, 412];
tableHeaders.forEach(function(name, i){
	label(svg, headerX[i], 777.5, name, 7.9, "#4e5674");
});
var tableRow = d3.scaleLinear().domain([0, 3]).range([785, 899.5]);
topCountries.forEach(function(name, i){
	var top = tableRow(i);
	svg.append("rect").attr("x", 50).attr("y", top).attr("width", 419.5).attr("height", tableRow(1) - tableRow(0))
		.attr("fill", (i % 2) ? "#fafafc" : "#fff");
	svg.append("line").attr("x1", 50).attr("x2", 470).attr("y1", top + 38).attr("y2", top + 38).attr("stroke", "#f0f1f5");
	label(svg, 172, top + 21, name, 7.9, "#7a8090");
	label(svg, 334, top + 21, topSends[i], 7.9, "#7a8090", "end");
	label(svg, 398, top + 21, topAds[i], 7.9, "#7a8090", "end");
	label(svg, 463, top + 21, topRatio[i], 7.9, "#7a8090", "end");
});
svg.append("rect").attr("x", 50).attr("y", 899.5).attr("width", 419.5).attr("height", 16).attr("fill", "#fafafc");

//********************************* SENDS PER MONTH *********************************
box(svg, 486, 737.5, 908, 913);
label(svg, 493, 754.5, "HD & SD TV Sends Per Month", 10, titleColor, "start", 700);

var monthScale = d3.scaleLinear().domain([0, 200]).range([558.3, 861.7]);
var sendScale = d3.scaleLinear().domain([0, 600]).range([863.3, 798.7]);

var sendsAxis = d3.axisLeft(sendScale).tickValues(sendTicks).tickSize(0).tickPadding(3)
	.tickFormat(function(v){ return d3.format(",")(v * 1000); });
var sendsAxisG = svg.append("g").attr("transform", "translate(556,0)").call(sendsAxis);
sendsAxisG.select(".domain").remove();
sendsAxisG.selectAll("text").attr("font-size", 6).attr("font-family", "Lato").attr("fill", "#5c6478");

svg.append("g").selectAll("line").data(sendTicks.slice(1)).enter().append("line")
	.attr("x1", 558).attr("x2", 862)
	.attr("y1", function(d){ return sendScale(d); }).attr("y2", function(d){ return sendScale(d); })
	.attr("stroke", "#eff1f8").attr("stroke-width", 1);

var monthRows = sdSends.map(function(v, i){ return { month: i, sd: v, hd: hdSends[i] }; });
var stacked = d3.stack().keys(["sd", "hd"])(monthRows);
var stackArea = d3.area()
	.x(function(d){ return monthScale(d.data.month); })
	.y0(function(d){ return sendScale(d[0]); })
	.y1(function(d){ return sendScale(d[1]); });
var stackTop = d3.line()
	.x(function(d){ return monthScale(d.data.month); })
	.y(function(d){ return sendScale(d[1]); });
svg.append("path").attr("d", stackArea(stacked[1])).attr("fill", "url(#hatchHd)");
svg.append("path").attr("d", stackTop(stacked[1])).attr("fill", "none").attr("stroke", navyColor).attr("stroke-width", 0.9);
svg.append("path").attr("d", stackArea(stacked[0])).attr("fill", "url(#hatchSd)");
svg.append("path").attr("d", stackTop(stacked[0])).attr("fill", "none").attr("stroke", "#2eb2e6").attr("stroke-width", 0.8);

var monthAxis = d3.axisBottom(monthScale).tickValues(monthTickValues).tickSize(2).tickPadding(2)
	.tickFormat(function(v, i){ return monthTickLabels[i]; });
var monthAxisG = svg.append("g").attr("transform", "translate(0,863.5)").call(monthAxis);
monthAxisG.select(".domain").attr("stroke", "#ccd6eb");
monthAxisG.selectAll("line").attr("stroke", "#ccd6eb");
monthAxisG.selectAll("text").attr("font-size", 6.4).attr("font-family", "Lato").attr("fill", "#5c6478");

//legend
[["SD Sends", 652, "url(#hatchSd)"], ["HD Sends", 699, "url(#hatchHd)"]].forEach(function(item){
	svg.append("rect").attr("x", item[1]).attr("y", 771.5).attr("width", 12).attr("height", 7).attr("rx", 2)
		.attr("fill", item[2]).attr("stroke", item[1] == 652 ? "#2eb2e6" : navyColor).attr("stroke-width", 0.8);
	label(svg, item[1] + 15, 777.5, item[0], 6.2, "#4d5362");
});
//chart toolbar
exportIcon(895, 777);
svg.append("path").attr("d", "M892 794v-4h2v4zM895 794v-8h2v8zM898 794v-6h1.5v6z").attr("fill", "#9aa0aa");
exportIcon(895, 805);
</script>
</body>
</html>
